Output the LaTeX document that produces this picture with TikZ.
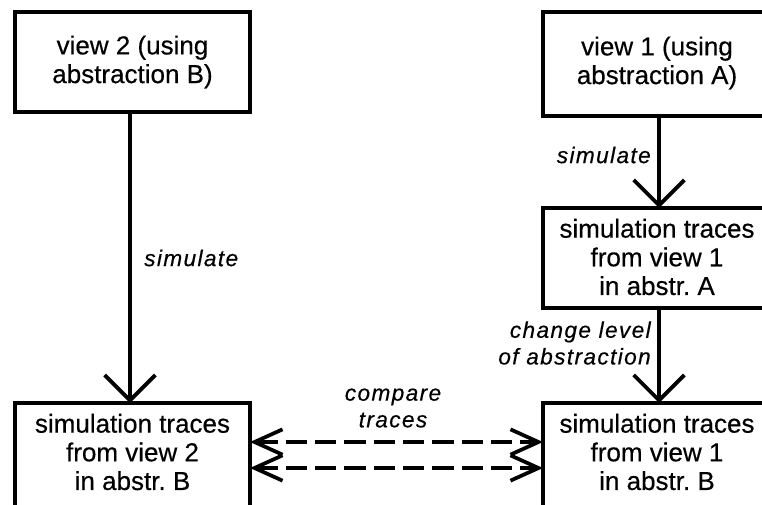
\documentclass[tikz,border=0pt]{standalone}
\usepackage{fontspec}
\setmainfont{Liberation Sans}
\usetikzlibrary{arrows.meta}
\frenchspacing
\tikzset{
  x=0.75pt, y=-0.75pt,
  frame/.style={line width=2.8pt},
  box/.style={align=center, font=\fontsize{19.5}{21.5}\selectfont\addfontfeature{FakeBold=0.4}, inner sep=0pt},
  flow/.style={line width=2.8pt,
    -{Straight Barb[length=19pt,width=38pt,line width=2.8pt]}},
  cmp/.style={line width=2.8pt, dash pattern=on 16pt off 6pt,
    {Straight Barb[length=21pt,width=19pt,line width=2.8pt]}-{Straight Barb[length=21pt,width=19pt,line width=2.8pt]}},
  lbl/.style={font=\fontsize{17}{20}\selectfont\itshape\addfontfeature{LetterSpace=6,FakeBold=0.4}, inner sep=0pt}
}
\begin{document}
\begin{tikzpicture}
\useasboundingbox (0,0) rectangle (762,504);
\clip (0,0) rectangle (762,504);

% box frames
\draw[frame] (15,12) rectangle (250,112);
\draw[frame] (543,12) rectangle (778,116);
\draw[frame] (543,208) rectangle (778,308);
\draw[frame] (15,403) rectangle (250,540);
\draw[frame] (543,403) rectangle (778,540);

% box texts
\node[box] (v2) at (132.5,62) {view 2 (using\\abstraction B)};
\node[box] (v1) at (657,63) {view 1 (using\\abstraction A)};
\node[box] (ta) at (657,257) {simulation traces\\from view 1\\in abstr. A};
\node[box] (t2) at (132.5,452) {simulation traces\\from view 2\\in abstr. B};
\node[box] (t1) at (657,452) {simulation traces\\from view 1\\in abstr. B};

% connector end points on the frames
\coordinate (v2b) at (130,112);
\coordinate (t2t) at (130,403);
\coordinate (v1b) at (659,116);
\coordinate (tat) at (659,208);
\coordinate (tab) at (659,308);
\coordinate (t1t) at (659,403);
\coordinate (l1) at (250,442); \coordinate (r1) at (543,442);
\coordinate (l2) at (250,468); \coordinate (r2) at (543,468);

% connectors
\draw[flow] (v2b) -- (t2t);
\draw[flow] (v1b) -- (tat);
\draw[flow] (tab) -- (t1t);
\draw[cmp] (l1) -- (r1);
\draw[cmp] (l2) -- (r2);

% labels
\node[lbl, anchor=west] (s1) at (144,258) {simulate};
\node[lbl, anchor=east] (s2) at (651,155) {simulate};
\node[lbl, anchor=east, align=right] (cl) at (651,343) {change level\\of abstraction};
\node[lbl, align=center] (ct) at (393,408) {compare\\traces};
\end{tikzpicture}
\end{document}
